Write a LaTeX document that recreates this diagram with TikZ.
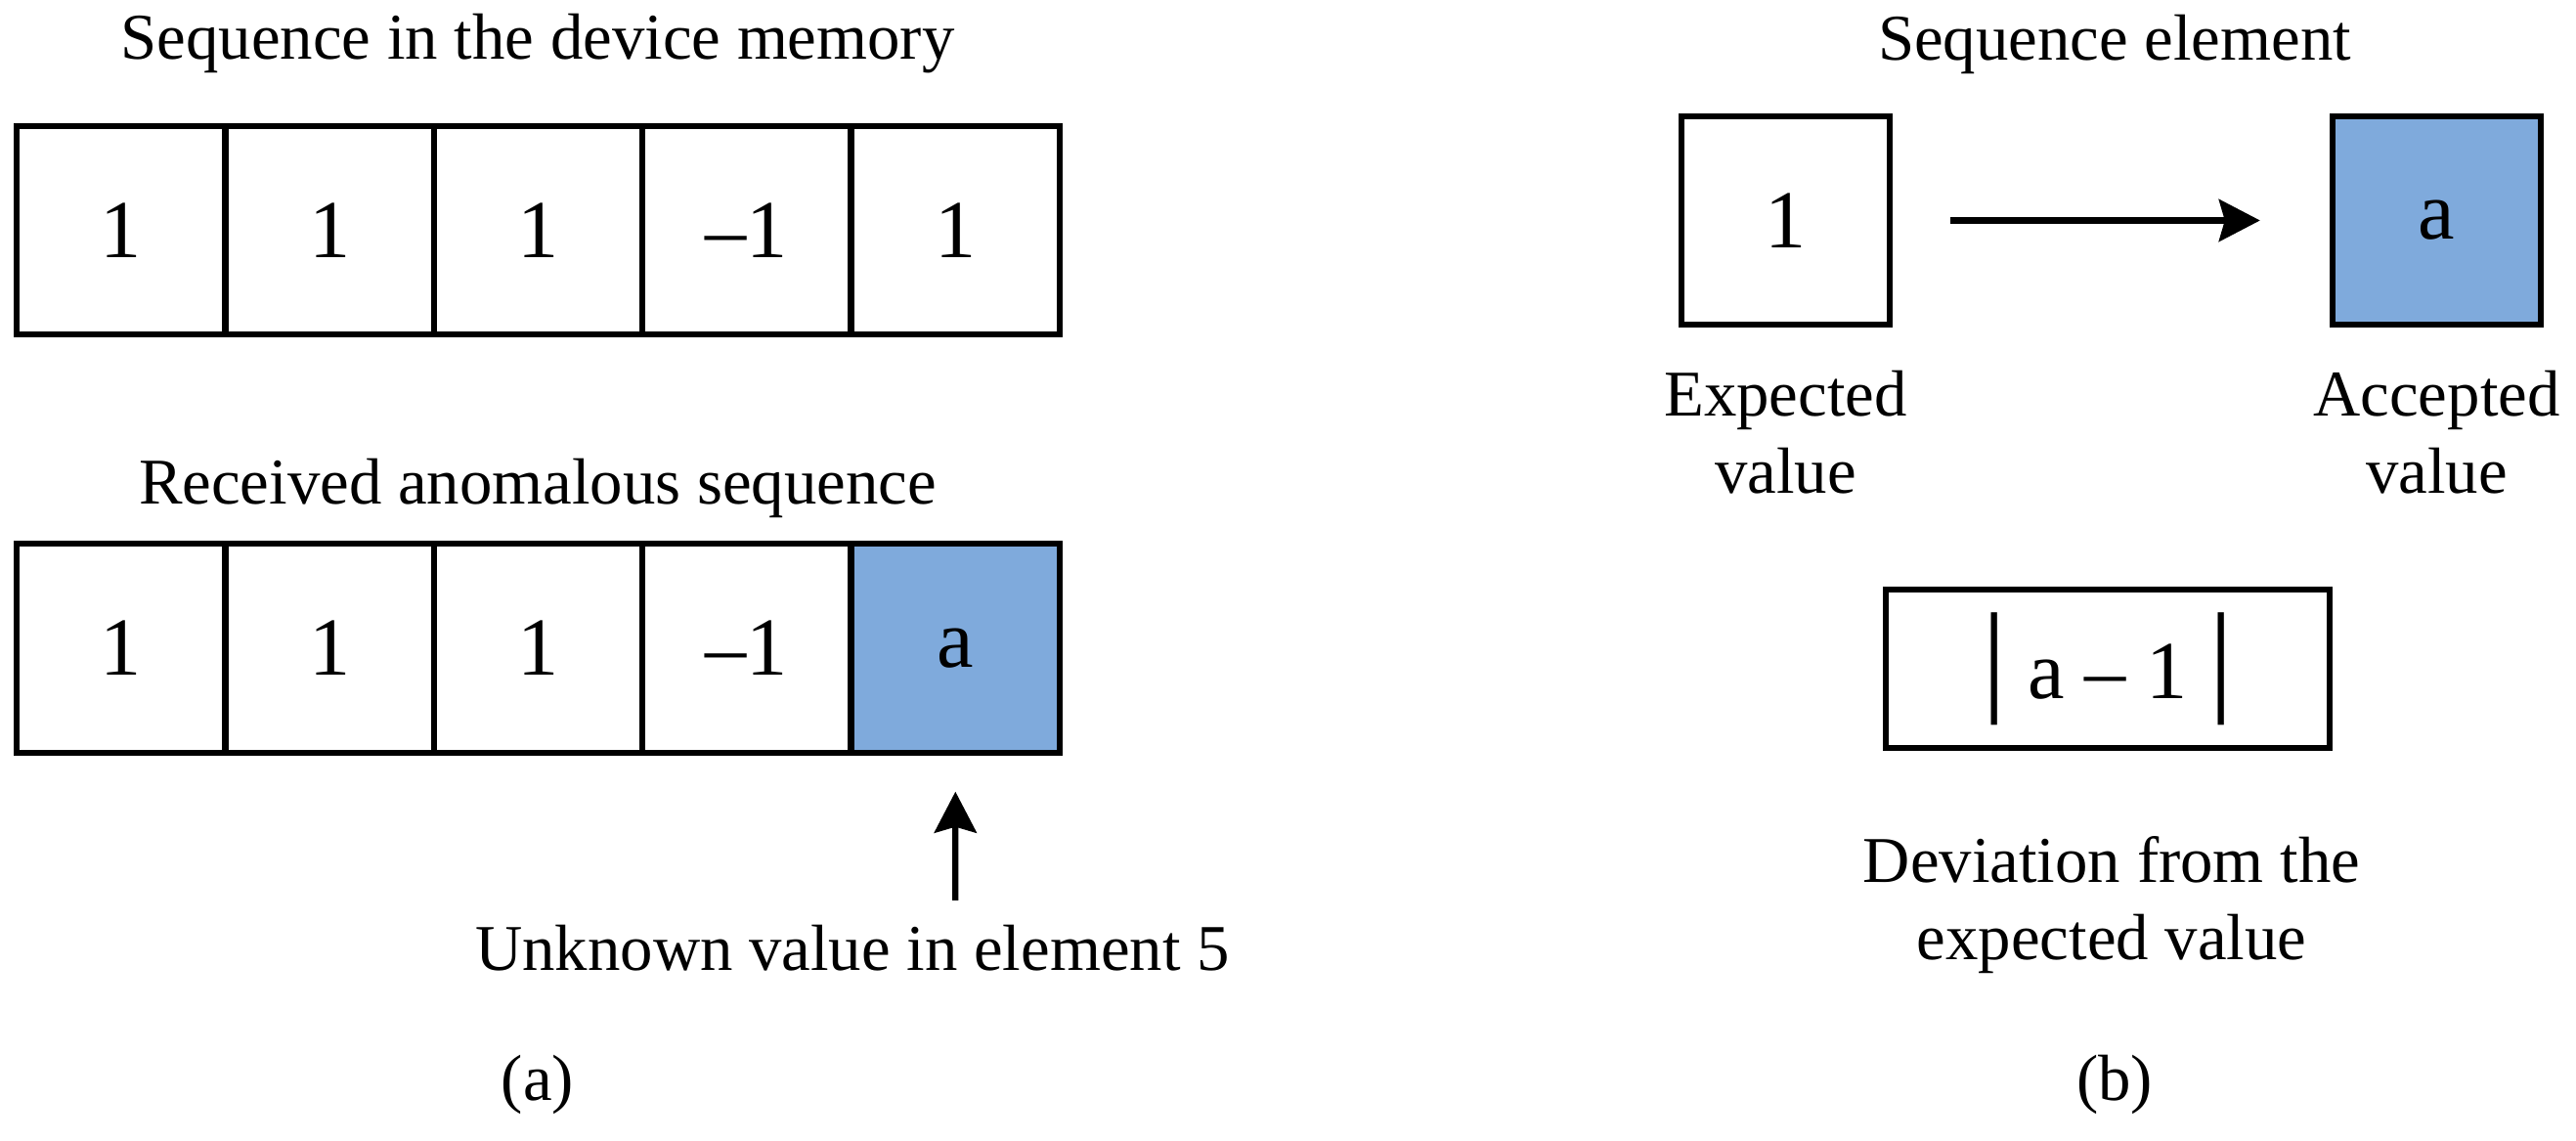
\documentclass[tikz,border=0pt]{standalone}
\usepackage{fontspec}
\setmainfont{Liberation Serif}
\usetikzlibrary{arrows.meta,positioning}
\definecolor{ink}{HTML}{000000}
\definecolor{cellblue}{HTML}{7FAADC}
\newcommand{\bigbar}{{\fontsize{36}{36}\selectfont|}}

\begin{document}
\begin{tikzpicture}[x=1cm,y=1cm,>={Stealth[length=4.2mm,width=4.3mm,inset=0.6mm]},line width=1.8pt,
  every node/.style={font=\fontsize{19}{22.5}\selectfont},
  cell/.style={draw=ink,minimum size=2.134cm,inner sep=0pt,outer sep=0pt,font=\fontsize{24}{28}\selectfont},
  oddcell/.style={cell,fill=cellblue}]
  \useasboundingbox (0,0) rectangle (26.35,11.67);
  % (a) sequence in memory and received sequence
  \node (memtitle) at (5.5,11.22) {Sequence in the device memory};
  \node[cell] (m1) at (1.237,9.315) {1};
  \foreach \v/\i/\j in {1/2/1,1/3/2,--1/4/3,1/5/4}
    \node[cell,right=0pt of m\j] (m\i) {\v};
  \node (rxtitle) at (5.5,6.68) {Received anomalous sequence};
  \node[cell] (r1) at (1.237,5.04) {1};
  \foreach \v/\i/\j in {1/2/1,1/3/2,--1/4/3}
    \node[cell,right=0pt of r\j] (r\i) {\v};
  \node[oddcell,right=0pt of r4] (r5) {a};
  \coordinate (ptr) at (9.773,2.46);
  \draw[->,draw=ink,shorten >=4mm] (ptr) -- (r5.south);
  \node (ptrlbl) at (8.72,1.97) {Unknown value in element 5};
  \node (capa) at (5.5,0.58) {(a)};
  % (b) one element
  \node (eltitle) at (21.63,11.22) {Sequence element};
  \node[cell] (expd) at (18.265,9.415) {1};
  \node[oddcell] (accd) at (24.925,9.415) {a};
  \draw[->,draw=ink,shorten <=6.2mm,shorten >=7.4mm] (expd) -- (accd);
  \node[align=center] (expdlbl) at (18.265,7.25) {Expected\\value};
  \node[align=center] (accdlbl) at (24.925,7.25) {Accepted\\value};
  \node[draw=ink,minimum width=4.54cm,minimum height=1.62cm,inner sep=0pt,outer sep=0pt,
    font=\fontsize{24}{28}\selectfont] (dev) at (21.56,4.83) {\bigbar\ a -- 1 \bigbar};
  \node[align=center] (devlbl) at (21.6,2.41) {Deviation from the\\expected value};
  \node (capb) at (21.63,0.58) {(b)};
\end{tikzpicture}
\end{document}
